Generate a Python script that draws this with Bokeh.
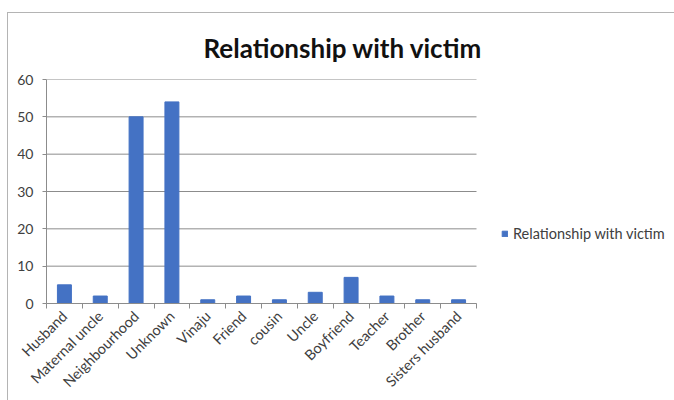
from math import pi
from bokeh.plotting import figure
from bokeh.models import FixedTicker, Range1d, ColumnDataSource, Legend, LegendItem
from bokeh.embed import file_html
from bokeh.resources import INLINE

categories = ["Husband", "Maternal uncle", "Neighbourhood", "Unknown", "Vinaju", "Friend",
              "cousin", "Uncle", "Boyfriend", "Teacher", "Brother", "Sisters husband"]
values = [5, 2, 50, 54, 1, 2, 1, 3, 7, 2, 1, 1]
y_ticks = [0, 10, 20, 30, 40, 50, 60]
series_name = "Relationship with victim"
title_text = "Relationship with victim"

n = len(categories)
xs = list(range(1, n + 1))
src = ColumnDataSource(dict(x=xs, top=values))

# plot area is 430 px wide for the categories; the frame continues to the right for the legend
frame_w = 629
cat_px = 430 / n
x_end = 0.5 + frame_w / cat_px

p = figure(width=667, height=388, output_backend="svg", toolbar_location=None,
           x_range=Range1d(0.5, x_end), y_range=Range1d(0, 60),
           min_border_left=38, min_border_right=0, min_border_top=65, min_border_bottom=98)
p.margin = (12, 0, 0, 7)
p.styles = {"border-top": "1px solid #b4b4b4", "border-left": "1px solid #b4b4b4"}
p.outline_line_color = None
p.background_fill_color = "white"

# horizontal gridlines limited to the category area
p.segment(x0=[0.5] * len(y_ticks), x1=[n + 0.5] * len(y_ticks), y0=y_ticks, y1=y_ticks,
          line_color="#8c8c8c", line_width=1)

r = p.vbar(x="x", top="top", width=0.39, source=src, fill_color="#4472C4", line_color="#4472C4")

xt = FixedTicker(ticks=xs, minor_ticks=[i + 0.5 for i in range(0, n + 1)])
p.xaxis.ticker = xt
p.xaxis.bounds = (0.5, n + 0.5)
p.xaxis.major_label_overrides = {x: c for x, c in zip(xs, categories)}
p.xaxis.major_label_orientation = pi / 4
p.xaxis.major_tick_line_color = None
p.xaxis.minor_tick_line_color = "#8c8c8c"
p.xaxis.minor_tick_out = 5
p.xaxis.minor_tick_in = 0
p.xaxis.axis_line_color = "#8c8c8c"
p.xaxis.major_label_text_font = "Lato"
p.xaxis.major_label_text_font_size = "14.5px"
p.xaxis.major_label_text_color = "#404040"
p.xaxis.major_label_standoff = 4
p.xgrid.grid_line_color = None
p.ygrid.grid_line_color = None

p.yaxis.ticker = FixedTicker(ticks=y_ticks)
p.yaxis.minor_tick_line_color = None
p.yaxis.major_tick_out = 4
p.yaxis.major_tick_in = 0
p.yaxis.major_tick_line_color = "#8c8c8c"
p.yaxis.axis_line_color = "#8c8c8c"
p.yaxis.major_label_text_font = "Lato"
p.yaxis.major_label_text_font_size = "14px"
p.yaxis.major_label_text_color = "#404040"
p.yaxis.major_label_standoff = 9

legend = Legend(items=[LegendItem(label=series_name, renderers=[r])], location=(455, 61),
                label_text_font="Lato", label_text_font_size="14.5px", label_text_color="#404040",
                glyph_width=7, glyph_height=7, label_standoff=5, padding=0, margin=0,
                border_line_color=None, background_fill_alpha=0)
p.add_layout(legend, "center")

p.title.text = title_text
p.title.text_font = "Lato"
p.title.text_font_size = "26px"
p.title.text_font_style = "bold"
p.title.text_color = "#111111"
p.title.align = "left"
p.title.offset = 157
p.title.standoff = 32

open("out.html", "w").write(file_html(p, INLINE))
